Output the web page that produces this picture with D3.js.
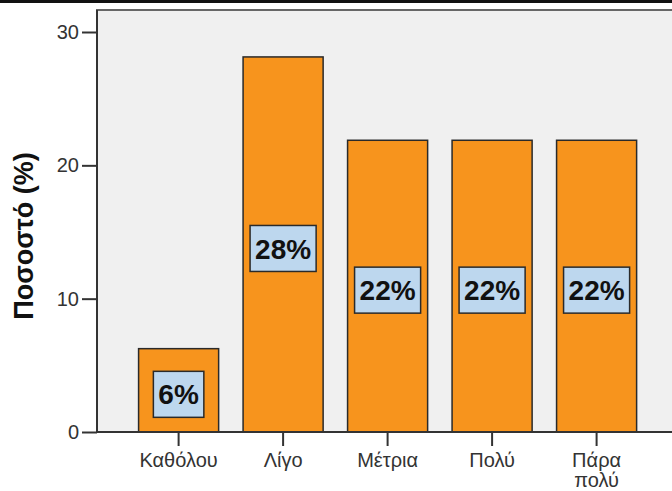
<!DOCTYPE html>
<html><head><meta charset="utf-8">
<script src="https://cdn.jsdelivr.net/npm/d3@7"></script>
<style>body{margin:0;background:#fff;}svg{display:block;font-family:Arial,"Liberation Sans",sans-serif;}</style>
</head><body>
<svg id="c" width="672" height="491"></svg>
<script>
const categories = ["Καθόλου","Λίγο","Μέτρια","Πολύ","Πάρα πολύ"];
const values = [6.25, 28.13, 21.88, 21.88, 21.88];
const valueLabels = ["6%","28%","22%","22%","22%"];
const yTicks = [0,10,20,30];

const svg = d3.select("#c");
const pLeft = 97, pTop = 10, pBottom = 432, pRight = 720;
const x = d3.scaleBand().domain(categories).range([125, 650.2]).paddingInner(0.234).paddingOuter(0.13);
const y = d3.scaleLinear().domain([0,30]).range([pBottom, 32]);

// top black strip
svg.append("rect").attr("x",0).attr("y",0).attr("width",672).attr("height",3).attr("fill","#111");

// plot background
svg.append("rect").attr("x",pLeft).attr("y",pTop).attr("width",pRight-pLeft).attr("height",pBottom-pTop)
  .attr("fill","#f0f0f0").attr("stroke","#666").attr("stroke-width",2);

// bars
svg.selectAll("rect.bar").data(values).join("rect").attr("class","bar")
  .attr("x",(d,i)=>x(categories[i])).attr("width",x.bandwidth())
  .attr("y",d=>y(d)).attr("height",d=>pBottom-y(d))
  .attr("fill","#f7941d").attr("stroke","#2a2a2a").attr("stroke-width",1.5);

// labels
const lg = svg.selectAll("g.lab").data(values).join("g").attr("class","lab")
  .attr("transform",(d,i)=>`translate(${x(categories[i])+x.bandwidth()/2},${y(d/2)+4})`);
lg.each(function(d,i){
  const g = d3.select(this);
  const t = g.append("text").attr("text-anchor","middle").attr("dy","0.36em")
    .attr("font-size",28).attr("font-weight","bold").attr("fill","#111").text(valueLabels[i]);
  const w = t.node().getComputedTextLength();
  g.insert("rect","text").attr("x",-w/2-5).attr("y",-23).attr("width",w+10).attr("height",46)
    .attr("fill","#bdd7ee").attr("stroke","#2a2a2a").attr("stroke-width",1.5);
});

// y axis
const ya = svg.append("g").attr("transform",`translate(${pLeft},0)`)
  .call(d3.axisLeft(y).tickValues(yTicks).tickSize(15).tickPadding(3));
ya.select(".domain").attr("stroke","#333").attr("stroke-width",2).attr("d",`M0,${pTop}V${pBottom}`);
ya.selectAll(".tick line").attr("stroke","#333").attr("stroke-width",2);
ya.selectAll(".tick text").attr("font-size",20).attr("fill","#333").attr("font-family","Arial,'Liberation Sans',sans-serif");

// x axis
const xa = svg.append("g").attr("transform",`translate(0,${pBottom})`)
  .call(d3.axisBottom(x).tickSize(14).tickPadding(8));
xa.select(".domain").attr("stroke","#333").attr("stroke-width",2).attr("d",`M${pLeft},0H${pRight}`);
xa.selectAll(".tick line").attr("stroke","#333").attr("stroke-width",2);
xa.selectAll(".tick text").attr("font-size",20).attr("fill","#333").attr("font-family","Arial,'Liberation Sans',sans-serif")
  .attr("y",35).attr("dy",0)
  .each(function(d){
    const words = d.split(" ");
    if(words.length>1){
      const t = d3.select(this).text(null);
      words.forEach((w,k)=>t.append("tspan").attr("x",0).attr("dy",k===0?0:20).text(w));
    }
  });

// y title
svg.append("text").attr("transform","translate(33,236) rotate(-90)").attr("text-anchor","middle")
  .attr("font-size",27).attr("font-weight","bold").attr("fill","#111").text("Ποσοστό (%)");
</script>
</body></html>
